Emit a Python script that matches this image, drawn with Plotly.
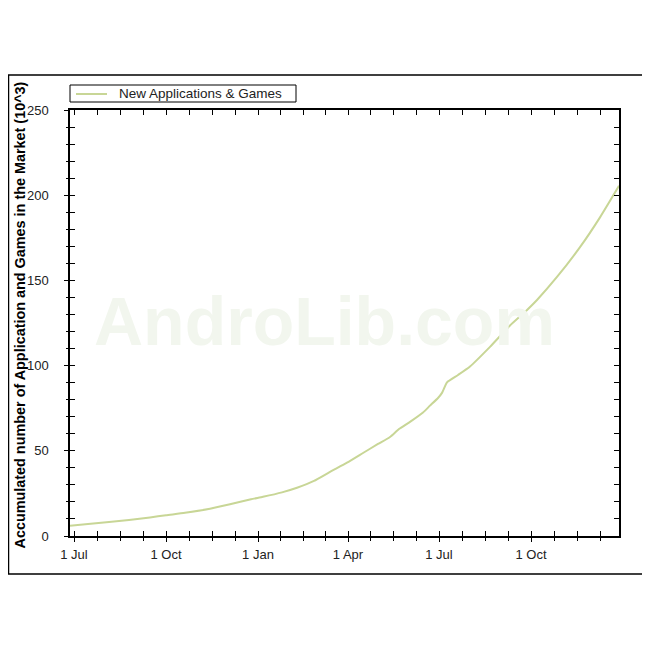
import plotly.graph_objects as go
import pandas as pd

# accumulated apps & games in the market (thousands)
dates = ["2009-06-27", "2009-07-15", "2009-08-05", "2009-08-25", "2009-09-15",
         "2009-10-01", "2009-10-20", "2009-11-14", "2009-12-04", "2009-12-25",
         "2010-01-06", "2010-01-25", "2010-02-09", "2010-02-26", "2010-03-14",
         "2010-03-31", "2010-04-16", "2010-05-01", "2010-05-13", "2010-05-22",
         "2010-06-02", "2010-06-15", "2010-06-22", "2010-06-30", "2010-07-04",
         "2010-07-09", "2010-07-20", "2010-08-01", "2010-08-21", "2010-09-10",
         "2010-09-25", "2010-10-07", "2010-10-27", "2010-11-19", "2010-12-09",
         "2010-12-28"]
apps = [6.0, 7.0, 8.2, 9.4, 10.9,
        12.2, 13.6, 16.0, 18.6, 21.6,
        23.0, 25.6, 28.3, 32.3, 37.6,
        43.0, 48.7, 54.0, 58.1, 62.8,
        67.0, 72.5, 76.5, 81.0, 84.0,
        90.2, 94.5, 99.5, 111.0, 123.5,
        131.5, 138.5, 152.0, 169.5, 187.0,
        205.5]

quarters = ["2009-07-01", "2009-10-01", "2010-01-01", "2010-04-01",
            "2010-07-01", "2010-10-01", "2011-01-01"]
quarter_labels = ["1 Jul", "1 Oct", "1 Jan", "1 Apr", "1 Jul", "1 Oct", ""]
y_ticks = [0, 50, 100, 150, 200, 250]

x_range = ["2009-06-27", "2010-12-28"]
series_name = "New Applications & Games"
line_color = "rgb(200,214,150)"
font = "Arial, Liberation Sans, sans-serif"
narrow = "Liberation Sans Narrow, Arial Narrow, Arial, sans-serif"

# plot area is 549 x 426 px; helpers turn page pixels into paper coords
def px(x):
    return (x - 70) / 549

def py(y):
    return (536 - y) / 426

# minor ticks: every quarter split in four
q = pd.to_datetime(quarters)
minor_vals = []
for a, b in zip(q[:-1], q[1:]):
    for k in range(1, 4):
        minor_vals.append(a + (b - a) * k / 4)

fig = go.Figure()

fig.add_trace(go.Scatter(
    x=dates, y=apps, mode="lines",
    name=series_name,
    line=dict(color=line_color, width=2, shape="spline", smoothing=0.5),
))

# invisible copy so the outward tick axes get drawn
fig.add_trace(go.Scatter(
    x=dates, y=apps, mode="lines", xaxis="x2", yaxis="y2",
    line=dict(color="rgba(0,0,0,0)", width=0),
    showlegend=False, hoverinfo="skip",
))

xcommon = dict(type="date", range=x_range, tickvals=quarters,
               showgrid=False, zeroline=False)
ycommon = dict(range=[0, 250], tickvals=y_ticks,
               showgrid=False, zeroline=False)

fig.update_layout(
    width=650, height=650,
    margin=dict(l=62, r=39, t=102, b=122),
    paper_bgcolor="white", plot_bgcolor="white",
    font=dict(family=font, size=13, color="#222"),
    showlegend=False,
    xaxis=dict(**xcommon, ticktext=quarter_labels,
               ticks="inside", ticklen=5, tickcolor="black",
               showline=True, linecolor="black", linewidth=1.5,
               mirror="allticks", ticklabelstandoff=6,
               tickfont=dict(family=font, size=13, color="#222"),
               minor=dict(tickvals=minor_vals, ticks="inside", ticklen=5,
                          tickcolor="black")),
    xaxis2=dict(**xcommon, overlaying="x", anchor="y2", side="bottom",
                showticklabels=False, ticks="outside", ticklen=5,
                tickcolor="black", showline=False,
                minor=dict(tickvals=minor_vals, ticks="outside", ticklen=4,
                           tickcolor="black")),
    yaxis=dict(**ycommon, ticks="inside", ticklen=5, tickcolor="black",
               showline=True, linecolor="black", linewidth=1.5,
               mirror="allticks", ticklabelstandoff=17,
               tickfont=dict(family=narrow, size=13, color="#222"),
               minor=dict(dtick=10, ticks="inside", ticklen=5,
                          tickcolor="black")),
    yaxis2=dict(**ycommon, overlaying="y", anchor="x2", side="left",
                showticklabels=False, ticks="outside", ticklen=5,
                tickcolor="black", showline=False,
                minor=dict(dtick=10, ticks="outside", ticklen=3,
                           tickcolor="black")),
)

# legend box drawn by hand so it stays as compact as the original
fig.add_shape(type="rect", xref="paper", yref="paper",
              x0=px(70), x1=px(296), y0=py(102), y1=py(85),
              line=dict(color="black", width=1), fillcolor="white")
fig.add_shape(type="line", xref="paper", yref="paper",
              x0=px(76), x1=px(107), y0=py(94), y1=py(94),
              line=dict(color=line_color, width=2))
fig.add_annotation(text=series_name, xref="paper", yref="paper",
                   x=px(117), y=py(93.5), xanchor="left", yanchor="middle",
                   showarrow=False,
                   font=dict(family=font, size=13.5, color="#222"))

# watermark
fig.add_annotation(text="AndroLib.com", xref="paper", yref="paper",
                   x=px(324), y=py(321),
                   xanchor="center", yanchor="middle", showarrow=False,
                   font=dict(family=font, size=68, color="rgb(242,246,238)",
                             weight="bold"))

# y axis title
fig.add_annotation(text="Accumulated number of Application and Games in the Market (10^3)",
                   xref="paper", yref="paper",
                   x=px(19), y=py(315.5),
                   xanchor="center", yanchor="middle", textangle=-90,
                   showarrow=False,
                   font=dict(family=font, size=14.4, color="black", weight="bold"))

# outer frame
fig.add_shape(type="rect", xref="paper", yref="paper",
              x0=px(8.5), x1=px(649), y0=py(574), y1=py(75),
              line=dict(color="black", width=1.5), layer="below")

fig.write_html("out.html")
